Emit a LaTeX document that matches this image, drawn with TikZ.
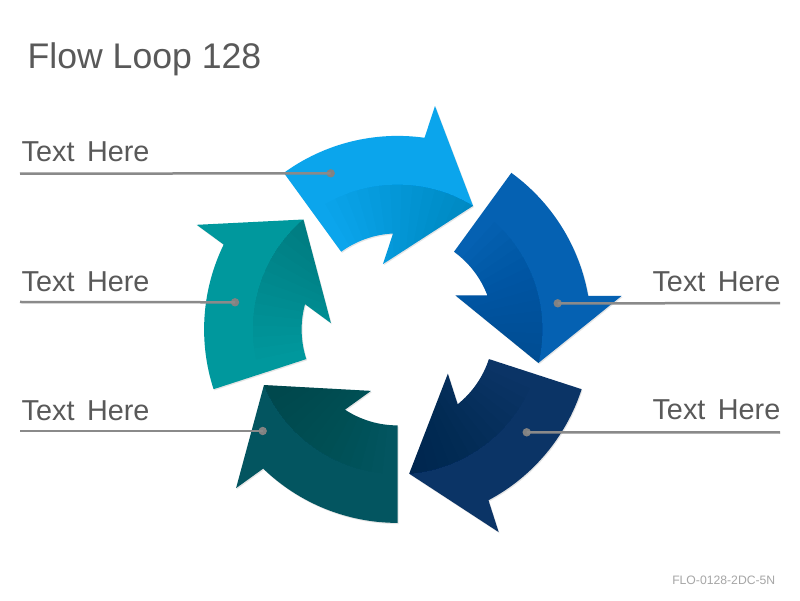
\documentclass[tikz,border=0pt]{standalone}
\usepackage{fontspec}
\setmainfont{Liberation Sans}
\definecolor{arA}{RGB}{11,165,236}
\definecolor{arB}{RGB}{5,97,178}
\definecolor{arC}{RGB}{11,52,102}
\definecolor{arD}{RGB}{3,85,96}
\definecolor{arE}{RGB}{0,152,157}
\definecolor{titlegray}{RGB}{89,89,89}
\definecolor{leadgray}{RGB}{138,138,138}
\definecolor{dotgray}{RGB}{130,130,130}
\definecolor{footgray}{RGB}{166,166,166}
\newcommand\arrowpath{(126:193.5) arc[start angle=126, end angle=82.0, radius=193.5] -- (80.5:226.5) -- (58.6:144.75) -- (102.6:67) -- (92.73:96) arc[start angle=92.73, end angle=126, radius=96] -- cycle}
\newcommand\txthere{Text\hspace{4.5pt} Here}
\tikzset{
  leader/.style={draw=leadgray, line width=2.5pt},
  leaddot/.style={circle, fill=dotgray, inner sep=0pt, minimum size=8.4pt},
  labeltext/.style={inner sep=0pt, text=titlegray, font=\fontsize{28.8}{34}\selectfont},
}
\begin{document}
\begin{tikzpicture}[x=1pt, y=1pt]
\useasboundingbox (0,0) rectangle (800,600);
\fill[white] (0,0) rectangle (800,600);
% title and footer
\node[anchor=base west, inner sep=0pt, text=titlegray, font=\fontsize{35.6}{42}\selectfont] (title) at (27.5,531) {Flow Loop 128};
\node[anchor=base east, inner sep=0pt, text=footgray, font=\fontsize{12.2}{14}\selectfont] (foot) at (775.5,16) {FLO-0128-2DC-5N};
% arrows
\foreach \k/\col in {0/arA,1/arB,2/arC,3/arD,4/arE} {
  \begin{scope}[shift={(398.5,269.4)}, rotate={-72*\k}]
    \fill[black, opacity=0.10] \arrowpath;
  \end{scope}
  \begin{scope}[shift={(397.6,270.6)}, rotate={-72*\k}]
    \fill[\col] \arrowpath;
    \begin{scope}
      \clip \arrowpath;
      \clip (0,0) circle[radius=144.75];
      \foreach \i in {0,...,13} {
        \fill[black, opacity=0.011] (0,0) -- ({120-\i*4.5}:300) arc[start angle={120-\i*4.5}, end angle=30, radius=300] -- cycle;
      }
    \end{scope}
  \end{scope}
}
% labels
\node[labeltext, anchor=base west] (t1) at (21.5,438.3) {\txthere};
\node[labeltext, anchor=base west] (t2) at (21.5,308.6) {\txthere};
\node[labeltext, anchor=base west] (t3) at (21.5,179.6) {\txthere};
\node[labeltext, anchor=base east] (t4) at (780.5,308.3) {\txthere};
\node[labeltext, anchor=base east] (t5) at (780.5,180) {\txthere};
% leader lines
\coordinate (s1) at (20,426.3);
\coordinate (s2) at (20,298);
\coordinate (s3) at (20,169);
\coordinate (s4) at (780,296.8);
\coordinate (s5) at (780,167.5);
\node[leaddot] (d1) at (330.7,426.7) {};
\node[leaddot] (d2) at (235,297.7) {};
\node[leaddot] (d3) at (262.7,169) {};
\node[leaddot] (d4) at (557.7,296.7) {};
\node[leaddot] (d5) at (526.7,167.7) {};
\draw[leader] (s1) -- (d1.center);
\draw[leader] (s2) -- (d2.center);
\draw[leader] (s3) -- (d3.center);
\draw[leader] (s4) -- (d4.center);
\draw[leader] (s5) -- (d5.center);
\end{tikzpicture}
\end{document}
